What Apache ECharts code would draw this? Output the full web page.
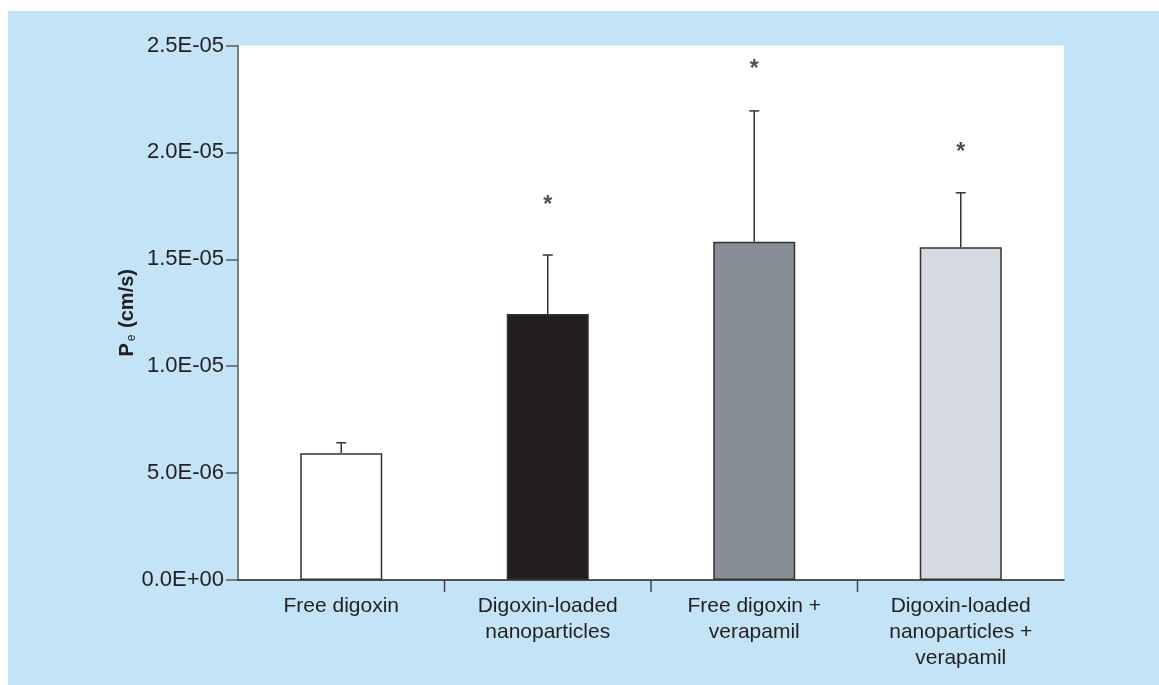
<!DOCTYPE html>
<html>
<head>
<meta charset="utf-8">
<script src="https://cdn.jsdelivr.net/npm/echarts@6/dist/echarts.min.js"></script>
<style>
  html, body { margin: 0; padding: 0; background: #ffffff; }
  #bg { position: absolute; left: 8px; top: 11px; right: 0; bottom: 0; background: #c3e4f6; }
  #chart { position: absolute; left: 0; top: 0; width: 1159px; height: 685px; }
</style>
</head>
<body>
<div id="bg"></div>
<div id="chart"></div>
<script>
// ---- data ----
var categories = ['Free digoxin', 'Digoxin-loaded\nnanoparticles', 'Free digoxin +\nverapamil', 'Digoxin-loaded\nnanoparticles +\nverapamil'];
var means = [5.93e-6, 1.244e-5, 1.582e-5, 1.556e-5];
var errorTops = [6.42e-6, 1.520e-5, 2.194e-5, 1.811e-5];
var starLevels = [null, 1.763e-5, 2.40e-5, 2.015e-5];
var barColors = ['#ffffff', '#231f20', '#878e96', '#d5d9e2'];
var yTicks = { min: 0, max: 2.5e-5, interval: 5e-6 };

function fmtExp(v) {
  var s = Number(v).toExponential(1);
  var parts = s.split('e');
  var mant = parts[0];
  var ex = parseInt(parts[1], 10);
  var sign = ex < 0 ? '-' : '+';
  var ab = Math.abs(ex);
  return mant + 'E' + sign + (ab < 10 ? '0' + ab : '' + ab);
}

var chart = echarts.init(document.getElementById('chart'), null, { renderer: 'canvas' });
var FONT = 'Liberation Sans, Arial, sans-serif';

var option = {
  backgroundColor: 'transparent',
  animation: false,
  grid: {
    left: 238, right: 95, top: 45.5, bottom: 105,
    show: true, backgroundColor: '#ffffff', borderWidth: 0
  },
  xAxis: {
    type: 'category',
    data: categories,
    axisLine: { lineStyle: { color: '#231f20', width: 1.5 } },
    axisTick: { show: false },
    axisLabel: {
      color: '#231f20', fontSize: 21, fontFamily: FONT,
      lineHeight: 26, margin: 13, interval: 0
    }
  },
  yAxis: {
    type: 'value',
    min: yTicks.min, max: yTicks.max, interval: yTicks.interval,
    name: '{b|P}{s|e}{b| (cm/s)}',
    nameLocation: 'middle',
    nameRotate: 90,
    nameGap: 100,
    nameMoveOverlap: false,
    nameTextStyle: {
      rich: {
        b: { fontSize: 20, fontWeight: 'bold', color: '#231f20', fontFamily: FONT },
        s: { fontSize: 12, color: '#231f20', fontFamily: FONT, padding: [9, 1, 0, 2] }
      }
    },
    splitLine: { show: false },
    axisLine: { show: true, lineStyle: { color: '#5a5a5a', width: 1.5 } },
    axisTick: { show: true, length: 12, lineStyle: { color: '#5a5a5a', width: 1.5 } },
    axisLabel: {
      color: '#231f20', fontSize: 22, fontFamily: FONT,
      margin: 14,
      formatter: function (v) { return fmtExp(v); }
    }
  },
  series: [
    {
      type: 'bar',
      barWidth: 82,
      data: means.map(function (v, i) {
        return { value: v, itemStyle: { color: barColors[i], borderColor: '#333333', borderWidth: 1.5 } };
      }),
      z: 2
    },
    {
      type: 'custom',
      z: 3,
      data: means.map(function (v, i) { return [i, v, errorTops[i]]; }),
      renderItem: function (params, api) {
        var base = api.coord([api.value(0), api.value(1)]);
        var top = api.coord([api.value(0), api.value(2)]);
        var style = { stroke: '#333333', lineWidth: 1.5 };
        return {
          type: 'group',
          children: [
            { type: 'line', shape: { x1: base[0], y1: base[1], x2: top[0], y2: top[1] }, style: style },
            { type: 'line', shape: { x1: top[0] - 5, y1: top[1], x2: top[0] + 5, y2: top[1] }, style: style }
          ]
        };
      }
    },
    {
      type: 'custom',
      z: 3,
      clip: false,
      data: [[0, 0], [1, 0], [2, 0]],
      renderItem: function (params, api) {
        var p = api.coord([api.value(0), 0]);
        var bw = api.size([1, 0])[0];
        var x = p[0] + bw / 2;
        return { type: 'line', shape: { x1: x, y1: p[1], x2: x, y2: p[1] + 12 }, style: { stroke: '#444444', lineWidth: 1.5 } };
      }
    },
    {
      type: 'scatter',
      symbolSize: 0,
      z: 4,
      data: starLevels.map(function (v, i) { return v == null ? null : [i, v]; }).filter(function (d) { return d; }),
      label: {
        show: true, position: 'inside', formatter: '*', offset: [0, 3],
        fontSize: 23, fontWeight: 'bold', color: '#231f20', fontFamily: FONT
      }
    }
  ]
};
chart.setOption(option);
</script>
</body>
</html>
